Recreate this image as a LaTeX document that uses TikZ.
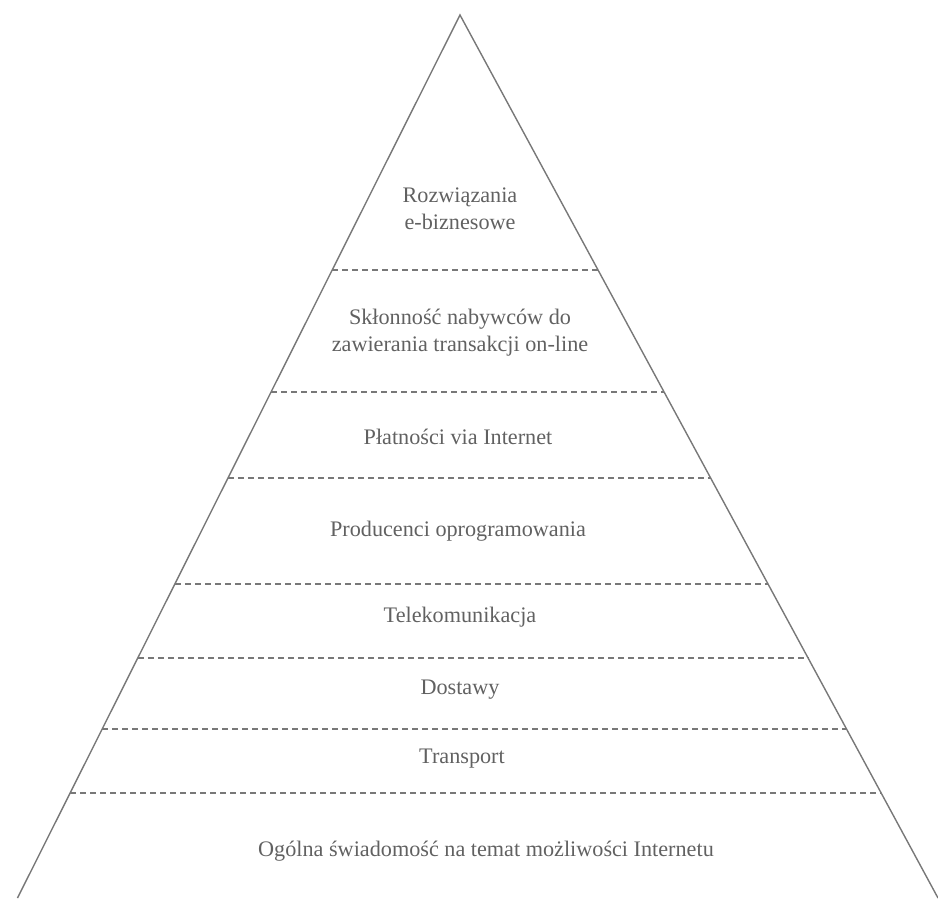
\documentclass[tikz,border=0pt]{standalone}
\usepackage{fontspec}
\setmainfont{Liberation Serif}
\usetikzlibrary{calc}

\newlength{\du}
\setlength{\du}{1pt}

\definecolor{sidecolor}{rgb}{0.470000, 0.470000, 0.470000}
\definecolor{tiertextcolor}{rgb}{0.380000, 0.380000, 0.380000}

\tikzset{
  sideline/.style={draw=sidecolor, line width=1.4\du},
  tierline/.style={draw=sidecolor, line width=1.1\du, dash pattern=on 6\du off 4\du},
  tiertext/.style={text=tiertextcolor, align=center, inner sep=0pt,
    font=\fontsize{22.2\du}{27\du}\selectfont}
}

\begin{document}
\begin{tikzpicture}
\pgftransformxscale{1.000000}
\pgftransformyscale{-1.000000}
\useasboundingbox (0\du,0\du) rectangle (938\du,898\du);
% pyramid sides
\coordinate (apex) at (460\du,15\du);
\coordinate (baseL) at (17.5\du,898\du);
\coordinate (baseR) at (938\du,898\du);
\draw[sideline] (baseL) -- (apex) -- (baseR);
% tier borders
\foreach \y/\n in {270/1, 392/2, 478/3, 584/4, 658/5, 729/6, 793/7}{
  \pgfmathsetmacro{\t}{(\y-15)/883}
  \coordinate (left\n) at ($(apex)!\t!(baseL)$);
  \coordinate (right\n) at ($(apex)!\t!(baseR)$);
  \draw[tierline] (left\n) -- (right\n);
}
% tier labels
\node[tiertext] (ebiz) at (460\du,209\du){Rozwiązania\\e-biznesowe};
\node[tiertext] (buyers) at (460\du,333\du){Skłonność nabywców do\\zawierania transakcji on-line};
\node[tiertext] (payments) at (458\du,437\du){Płatności via Internet};
\node[tiertext] (software) at (458\du,531\du){Producenci oprogramowania};
\node[tiertext] (telecom) at (460\du,617\du){Telekomunikacja};
\node[tiertext] (delivery) at (460\du,690\du){Dostawy};
\node[tiertext] (transport) at (462\du,759\du){Transport};
\node[tiertext] (awareness) at (486\du,851\du){Ogólna świadomość na temat możliwości Internetu};
\end{tikzpicture}
\end{document}
